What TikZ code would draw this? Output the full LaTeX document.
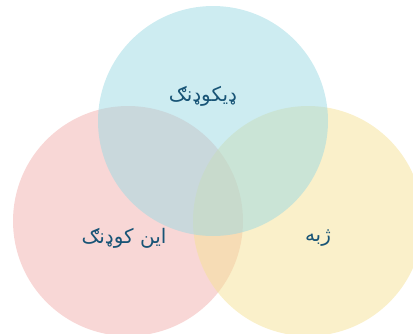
\documentclass[tikz,border=0pt]{standalone}
\usepackage{fontspec}
\newfontfamily\arabicfont[Script=Arabic]{DejaVu Sans}
\TeXXeTstate=1
\definecolor{cblue}{RGB}{155,217,227}
\definecolor{cpink}{RGB}{241,175,173}
\definecolor{cyel}{RGB}{245,225,149}
\definecolor{ctext}{RGB}{24,84,118}
\begin{document}
\begin{tikzpicture}[x=1pt,y=-1pt,
  venn/.style={circle,minimum size=230pt,inner sep=0pt,fill opacity=0.5,draw=none},
  lbl/.style={font=\arabicfont\fontsize{20}{24}\selectfont,text=ctext}]
\useasboundingbox (0,0) rectangle (413,333);
\node[venn,fill=cpink] (pink) at (128,221) {};
\node[venn,fill=cyel] (yel) at (308,221) {};
\node[venn,fill=cblue] (blue) at (213,121) {};
\node[lbl] (t1) at (203,96) {\beginR ډيکوډنګ\endR};
\node[lbl] (t2) at (124,238) {\beginR اين کوډنګ\endR};
\node[lbl] (t3) at (318,238) {\beginR ژبه\endR};
\end{tikzpicture}
\end{document}
